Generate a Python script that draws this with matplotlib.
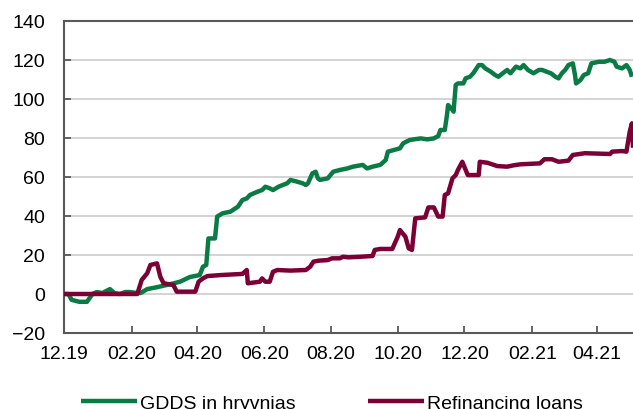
import matplotlib
matplotlib.use("Agg")
import matplotlib.pyplot as plt
import pandas as pd

plt.rcParams['font.family'] = ['Liberation Sans', 'DejaVu Sans']

gdds_dates = ['2019-12-01','2019-12-05','2019-12-08','2019-12-15','2019-12-22','2019-12-27','2019-12-31',
    '2020-01-05','2020-01-12','2020-01-16','2020-01-21','2020-01-26','2020-01-30','2020-02-06','2020-02-09',
    '2020-02-15','2020-02-24','2020-03-07','2020-03-16','2020-03-25','2020-04-03','2020-04-06','2020-04-09',
    '2020-04-11','2020-04-17','2020-04-19','2020-04-24','2020-05-01','2020-05-08','2020-05-12','2020-05-16',
    '2020-05-19','2020-05-26','2020-05-30','2020-06-02','2020-06-06','2020-06-09','2020-06-14','2020-06-22',
    '2020-06-25','2020-07-01','2020-07-06','2020-07-09','2020-07-11','2020-07-15','2020-07-18','2020-07-20',
    '2020-07-22','2020-07-29','2020-08-03','2020-08-09','2020-08-16','2020-08-21','2020-08-30','2020-09-03',
    '2020-09-08','2020-09-15','2020-09-20','2020-09-22','2020-10-03','2020-10-06','2020-10-12','2020-10-22',
    '2020-10-28','2020-11-03','2020-11-07','2020-11-09','2020-11-13','2020-11-15','2020-11-16','2020-11-20',
    '2020-11-21','2020-11-23','2020-11-25','2020-11-30','2020-12-02','2020-12-06','2020-12-09','2020-12-14',
    '2020-12-17','2020-12-20','2020-12-25','2020-12-29','2021-01-01','2021-01-05','2021-01-09','2021-01-12',
    '2021-01-17','2021-01-21','2021-01-24','2021-01-28','2021-02-02','2021-02-07','2021-02-10','2021-02-14',
    '2021-02-18','2021-02-22','2021-02-25','2021-02-28','2021-03-03','2021-03-06','2021-03-10','2021-03-12',
    '2021-03-13','2021-03-17','2021-03-20','2021-03-24','2021-03-27','2021-04-03','2021-04-08','2021-04-13',
    '2021-04-17','2021-04-19','2021-04-24','2021-04-28','2021-05-01','2021-05-03']
gdds_values = [0, 0, -3, -4, -4, 0, 1,
    0.5, 2.5, 0.5, 0, 1, 1, 0.5, 0.5,
    2.5, 3.5, 5, 6.3, 8.7, 9.7, 14, 14.9,
    28.5, 28.5, 39.7, 41.4, 42.2, 44.8, 48.2, 49,
    50.8, 52.5, 53.3, 55, 54.2, 53.3, 55, 56.8,
    58.5, 57.6, 56.8, 55.9, 56.8, 61.9, 62.7, 59.3,
    58.5, 59.3, 62.7, 63.6, 64.4, 65.3, 66.2, 64.4,
    65.3, 66.2, 68.7, 73, 74.7, 77.3, 79, 79.8,
    79.3, 79.8, 81, 84.1, 84.1, 91.8, 96.9, 94.4,
    93.5, 107.2, 108, 108, 110.6, 111.4, 113.2, 117.4,
    117.4, 115.7, 114, 112.3, 111.4, 113.2, 114.9, 113.2,
    116.6, 115.7, 117.4, 114.9, 113.2, 114.9, 114.9, 114,
    113.2, 111.4, 110.6, 113.2, 114.9, 117.4, 118.3, 112.3,
    108, 109.7, 112.3, 113.2, 118.3, 119.1, 119.1, 120,
    119.1, 116.6, 115.7, 117.4, 114.9, 111.4]

refi_dates = ['2019-12-01','2020-02-06','2020-02-10','2020-02-15','2020-02-18','2020-02-24','2020-02-27',
    '2020-03-01','2020-03-10','2020-03-13','2020-03-30','2020-04-02','2020-04-06','2020-04-10','2020-04-22',
    '2020-05-12','2020-05-16','2020-05-17','2020-05-28','2020-05-30','2020-06-02','2020-06-06','2020-06-09',
    '2020-06-13','2020-06-25','2020-07-09','2020-07-13','2020-07-16','2020-07-21','2020-07-29','2020-08-02',
    '2020-08-09','2020-08-12','2020-08-17','2020-08-28','2020-09-08','2020-09-10','2020-09-15','2020-09-26',
    '2020-10-01','2020-10-03','2020-10-08','2020-10-11','2020-10-14','2020-10-17','2020-10-26','2020-10-29',
    '2020-11-03','2020-11-07','2020-11-11','2020-11-13','2020-11-16','2020-11-20','2020-11-23','2020-11-25',
    '2020-11-29','2020-12-04','2020-12-14','2020-12-15','2020-12-22','2020-12-31','2021-01-09','2021-01-15',
    '2021-01-21','2021-02-08','2021-02-12','2021-02-19','2021-02-25','2021-03-06','2021-03-10','2021-03-21',
    '2021-04-13','2021-04-15','2021-04-24','2021-04-28','2021-05-01','2021-05-03','2021-05-04']
refi_values = [0, 0, 7.2, 10.6, 14.9, 15.7, 8.9,
    5.5, 4.6, 1.2, 1.2, 6.3, 8, 9.2, 9.7,
    10.3, 12.3, 5.5, 6.3, 8, 6.3, 6.3, 11.4,
    12.3, 12, 12.3, 14, 16.6, 17.1, 17.4, 18.3,
    18.3, 19.1, 18.8, 19.1, 19.5, 22.6, 23.1, 23.1,
    29.4, 32.8, 29.4, 23.4, 22.6, 38.8, 39.3, 44.4,
    44.4, 39.7, 39.7, 50.8, 51.6, 59.3, 61, 63.6,
    67.8, 61, 61, 67.8, 67.3, 65.6, 65.3, 66,
    66.5, 67, 69.1, 69.1, 67.8, 68.4, 71.3, 72.2,
    71.8, 73, 73.3, 73, 83.2, 87.5, 75]

series_labels = ['GDDS in hryvnias', 'Refinancing loans']
tick_dates = ['2019-12-01','2020-02-01','2020-04-01','2020-06-01','2020-08-01','2020-10-01',
              '2020-12-01','2021-02-01','2021-04-01']
tick_labels = ['12.19','02.20','04.20','06.20','08.20','10.20','12.20','02.21','04.21']
y_ticks = [-20, 0, 20, 40, 60, 80, 100, 120, 140]

W, H = 633, 410
fig = plt.figure(figsize=(W/100, H/100), dpi=100)
ax = fig.add_axes([64/W, 1-334/H, (633-64)/W, (334-22)/H])

green = '#0A7B45'
maroon = '#7B0035'
l1, = ax.plot(pd.to_datetime(gdds_dates), gdds_values, color=green, lw=3.2,
              solid_joinstyle='round', solid_capstyle='butt', zorder=3)
l2, = ax.plot(pd.to_datetime(refi_dates), refi_values, color=maroon, lw=3.2,
              solid_joinstyle='round', solid_capstyle='butt', zorder=4)

ax.set_xlim(pd.Timestamp('2019-12-01'), pd.Timestamp('2021-05-04'))
ax.set_ylim(-20, 140)
ax.set_yticks(y_ticks)
ax.set_xticks(pd.to_datetime(tick_dates))
ax.set_xticklabels(tick_labels)

ax.grid(axis='y', color='#D0D0D0', lw=1.3)
ax.set_axisbelow(True)
for s in ['left', 'bottom', 'top']:
    ax.spines[s].set_color('#595959')
    ax.spines[s].set_linewidth(1.5)
ax.spines['right'].set_visible(False)

ax.tick_params(axis='y', direction='in', length=5, width=1.3, color='#595959',
               labelsize=14, pad=13.5, labelcolor='black')
ax.tick_params(axis='x', direction='in', length=5, width=1.3, color='#595959',
               labelsize=14, pad=8.5, labelcolor='black')

fig.legend([l1, l2], series_labels, loc='center left',
           bbox_to_anchor=(81/W, 1-404/H), ncol=2, frameon=False,
           fontsize=14, handlelength=2.88, handletextpad=0.15,
           columnspacing=3.75, borderpad=0, borderaxespad=0)

fig.savefig('out.png', dpi=100)
